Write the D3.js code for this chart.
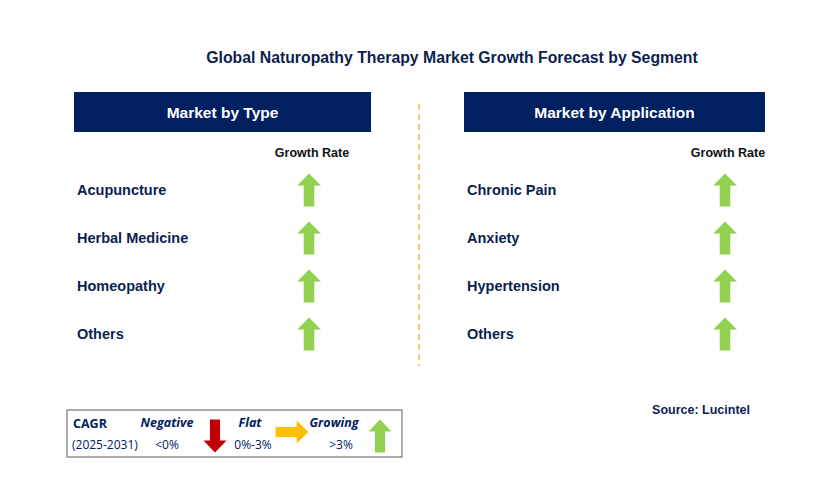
<!DOCTYPE html>
<html><head><meta charset="utf-8">
<script src="https://cdn.jsdelivr.net/npm/d3@7"></script>
<style>body{margin:0;background:#fff}text{font-family:"Liberation Sans",Arial,sans-serif}</style>
</head><body><svg id="chart" width="829" height="493"></svg>
<script>
var title = "Global Naturopathy Therapy Market Growth Forecast by Segment";
var typeCategories = ["Acupuncture", "Herbal Medicine", "Homeopathy", "Others"];
var typeGrowth = ["up", "up", "up", "up"];
var appCategories = ["Chronic Pain", "Anxiety", "Hypertension", "Others"];
var appGrowth = ["up", "up", "up", "up"];

var svg = d3.select("#chart");
var navy = "#002060", green = "#92d050";

svg.append("text").attr("x", 452).attr("y", 63).attr("text-anchor", "middle")
	.attr("font-size", 15.8).attr("font-weight", "bold").attr("fill", "#0b1f4f").text(title);

// vertical dashed divider
svg.append("line").attr("x1", 419).attr("x2", 419).attr("y1", 104).attr("y2", 366)
	.attr("stroke", "#f5b942").attr("stroke-width", 1.5).attr("stroke-dasharray", "6,4");

var y = d3.scaleBand().domain(d3.range(4)).range([166, 358]);

// arrow shapes centred at 0,0
function arrow(g, dir, color, w, h) {
	var hw = w / 2, sw = w * 0.22, hh = h * 0.36;
	var pts = [[0, -h/2], [hw, -h/2 + hh], [sw, -h/2 + hh], [sw, h/2], [-sw, h/2], [-sw, -h/2 + hh], [-hw, -h/2 + hh]];
	var rot = dir === "up" ? 0 : dir === "down" ? 180 : 90;
	g.append("path").attr("d", d3.line()(pts) + "Z").attr("fill", color)
		.attr("transform", "rotate(" + rot + ")");
}

function panel(x0, w, header, cats, growth, arrowX) {
	svg.append("rect").attr("x", x0).attr("y", 92).attr("width", w).attr("height", 40).attr("fill", navy);
	svg.append("text").attr("x", x0 + w / 2).attr("y", 118).attr("text-anchor", "middle")
		.attr("font-size", 15.5).attr("font-weight", "bold").attr("fill", "#fff").text(header);
	svg.append("text").attr("x", arrowX + 3).attr("y", 157).attr("text-anchor", "middle")
		.attr("font-size", 12.5).attr("font-weight", "bold").attr("fill", "#111").text("Growth Rate");
	cats.forEach(function (c, i) {
		var cy = y(i) + y.bandwidth() / 2;
		svg.append("text").attr("x", x0 + 3).attr("y", cy + 5).attr("font-size", 14.5)
			.attr("font-weight", "bold").attr("fill", "#0b1f4f").text(c);
		arrow(svg.append("g").attr("transform", "translate(" + arrowX + "," + cy + ")"),
			growth[i], green, 24, 33);
	});
}
panel(74, 297, "Market by Type", typeCategories, typeGrowth, 309);
panel(464, 301, "Market by Application", appCategories, appGrowth, 725);

svg.append("text").attr("x", 750).attr("y", 414).attr("text-anchor", "end")
	.attr("font-size", 12.5).attr("font-weight", "bold").attr("fill", "#0b1f4f").text("Source: Lucintel");

// legend
var lg = svg.append("g");
var lf = "'Open Sans',sans-serif";
lg.append("rect").attr("x", 67).attr("y", 410).attr("width", 335).attr("height", 47)
	.attr("fill", "#fff").attr("stroke", "#777").attr("stroke-width", 1.2);
lg.append("text").attr("x", 73).attr("y", 428).attr("font-size", 12.5).style("font-family", lf).attr("font-weight", "bold").attr("fill", navy).text("CAGR");
lg.append("text").attr("x", 72).attr("y", 449).attr("font-size", 12).style("font-family", lf).attr("fill", navy).text("(2025-2031)");
[["Negative", 167, "<0%", 167], ["Flat", 250, "0%-3%", 253], ["Growing", 334, ">3%", 341]].forEach(function (d) {
	lg.append("text").attr("x", d[1]).attr("y", 427).attr("text-anchor", "middle").attr("font-size", 12.5)
		.style("font-family", lf).attr("font-weight", "bold").attr("font-style", "italic").attr("fill", navy).text(d[0]);
	lg.append("text").attr("x", d[3]).attr("y", 449).attr("text-anchor", "middle").attr("font-size", 12)
		.style("font-family", lf).attr("fill", navy).text(d[2]);
});
arrow(lg.append("g").attr("transform", "translate(215,436)"), "down", "#c00000", 23, 33);
arrow(lg.append("g").attr("transform", "translate(292,432)"), "right", "#ffc000", 23, 33);
arrow(lg.append("g").attr("transform", "translate(380,436)"), "up", green, 23, 33);
</script></body></html>
